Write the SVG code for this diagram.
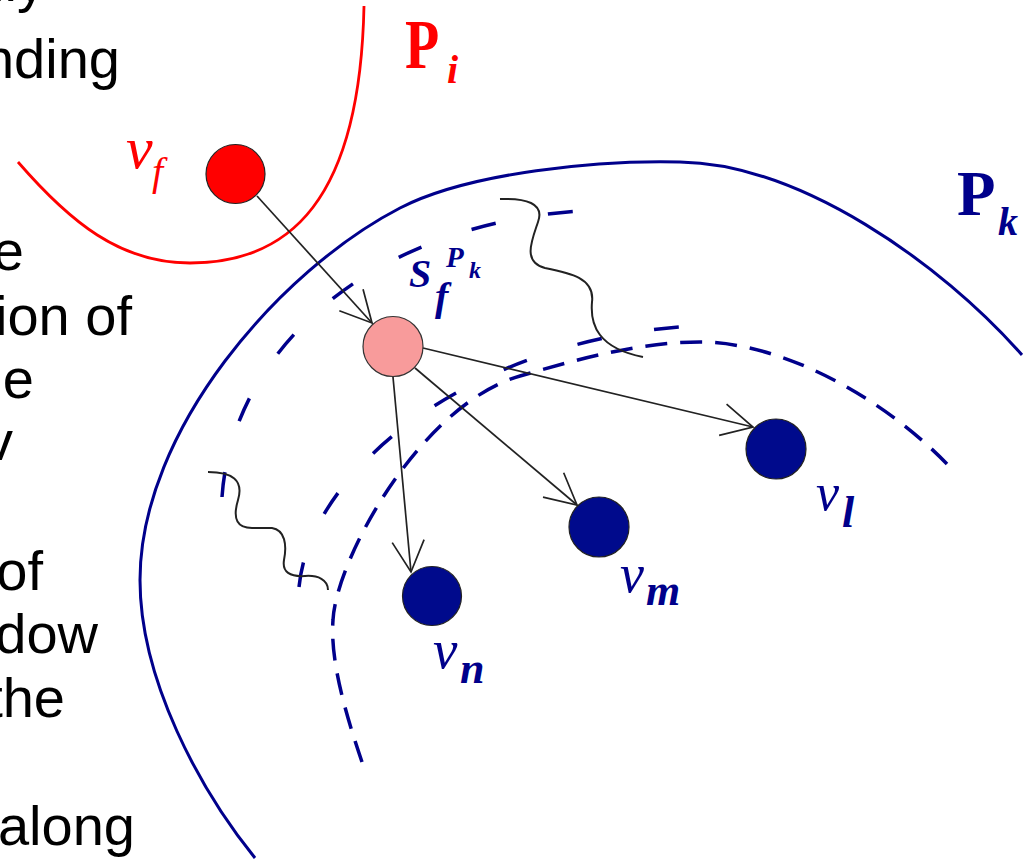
<svg xmlns="http://www.w3.org/2000/svg" width="1023" height="861" viewBox="0 0 1023 861">
<style>
.lt{font-family:"Liberation Sans",Arial,sans-serif;font-size:56px;fill:#000}
.sf{font-family:"Liberation Serif","Times New Roman",serif}
.red{fill:#ff0000}
.blue{fill:#00008b}
.it{font-style:italic}
.bi{font-style:italic;font-weight:bold}
.b{font-weight:bold}
.conn{stroke:#222;stroke-width:1.7;fill:none}
.wave{stroke:#222;stroke-width:2;fill:none}
.dA{stroke:#00008b;stroke-width:3.5;fill:none;stroke-dasharray:25 53}
.dC{stroke:#00008b;stroke-width:3.5;fill:none;stroke-dasharray:22 13}
.nodeB{fill:#000a8c;stroke:#222;stroke-width:1.2}
</style>
<defs>
<marker id="arr" markerUnits="userSpaceOnUse" viewBox="-33 -18 35 36" markerWidth="35" markerHeight="36" refX="0" refY="0" orient="auto">
<path d="M-31,-16 L0,0 L-31,16" fill="none" stroke="#222" stroke-width="1.7"/>
</marker>
</defs>
<rect width="1023" height="861" fill="#fff"/>
<g id="left-text">
<text class="lt" x="45" y="1" text-anchor="end">lly</text>
<text class="lt" x="120" y="78" text-anchor="end">nding</text>
<text class="lt" x="24" y="270" text-anchor="end">e</text>
<text class="lt" x="132" y="335" text-anchor="end">ion of</text>
<text class="lt" x="34" y="398" text-anchor="end">e</text>
<text class="lt" x="13" y="460" text-anchor="end">v</text>
<text class="lt" x="43" y="590" text-anchor="end">of</text>
<text class="lt" x="98" y="653" text-anchor="end">dow</text>
<text class="lt" x="65" y="717" text-anchor="end">the</text>
<text class="lt" x="135" y="845" text-anchor="end">along</text>
</g>
<g id="region-Pi">
<path d="M18,162 C70,222 120,263 190,263 C290,263 360,200 364,6" fill="none" stroke="#ff0000" stroke-width="2.8"/>
<text class="sf b red" transform="translate(405,68) scale(0.8,1)" font-size="70">P</text>
<text class="sf bi red" x="447" y="83" font-size="40">i</text>
</g>
<g id="region-Pk">
<path d="M255,858 C200,790 140,680 140,580 C140,430 280,270 400,208 C470,172 600,160 680,162 C800,164 940,262 1022,355" fill="none" stroke="#00008b" stroke-width="3"/>
<text class="sf b blue" x="957" y="215" font-size="63">P</text>
<text class="sf bi blue" x="998" y="235" font-size="40">k</text>
</g>
<g id="shadow-bands">
<path class="dA" d="M222,497 C232,350 370,225 580,211"/>
<path class="dA" d="M299,587 C310,470 470,340 692,326"/>
<path class="dC" d="M362,762 C345,712 330,660 333,620 C336,560 420,405 520,376 C580,358.6 640,342 700,342 C780,342 880,395 947,464"/>
<path class="wave" d="M500,199 C525,198 545,203 538,222 C532,240 522,262 545,268 C570,273 595,278 592,302 C590,325 598,348 643,357"/>
<path class="wave" d="M208,472 C232,472 244,480 238,500 C232,520 238,528 252,528 L272,528 C285,530 287,545 284,560 C282,572 290,577 305,576 C318,575 328,580 328,590"/>
<g id="label-S">
<text class="sf bi blue" x="409" y="287" font-size="40">S</text>
<text class="sf bi blue" x="435" y="310" font-size="40">f</text>
<text class="sf bi blue" x="446" y="267" font-size="29">P</text>
<text class="sf bi blue" x="469" y="278" font-size="24">k</text>
</g>
</g>
<g id="connectors">
<line class="conn" x1="257" y1="196" x2="372" y2="323" marker-end="url(#arr)"/>
<line class="conn" x1="423" y1="348" x2="753" y2="427" marker-end="url(#arr)"/>
<line class="conn" x1="415" y1="368" x2="577" y2="505" marker-end="url(#arr)"/>
<line class="conn" x1="393" y1="377" x2="411" y2="572" marker-end="url(#arr)"/>
</g>
<g id="node-vf">
<circle cx="235.5" cy="174" r="29.5" fill="#ff0000" stroke="#222" stroke-width="1.2"/>
<text class="sf it red" x="126" y="168" font-size="60">v</text>
<text class="sf it red" x="152" y="185" font-size="40">f</text>
</g>
<g id="node-sf">
<circle cx="393" cy="346.5" r="30" fill="#f89b9b" stroke="#333" stroke-width="1.2"/>
</g>
<g id="node-vl">
<circle class="nodeB" cx="776" cy="449" r="30"/>
<text class="sf it blue" x="816" y="510" font-size="52">v</text>
<text class="sf bi blue" x="842" y="527" font-size="44">l</text>
</g>
<g id="node-vm">
<circle class="nodeB" cx="599" cy="527" r="30"/>
<text class="sf it blue" x="620" y="592" font-size="54">v</text>
<text class="sf bi blue" x="646" y="605" font-size="44">m</text>
</g>
<g id="node-vn">
<circle class="nodeB" cx="432" cy="596" r="29.5"/>
<text class="sf it blue" x="433" y="668" font-size="55">v</text>
<text class="sf bi blue" x="460" y="683" font-size="44">n</text>
</g>
</svg>
